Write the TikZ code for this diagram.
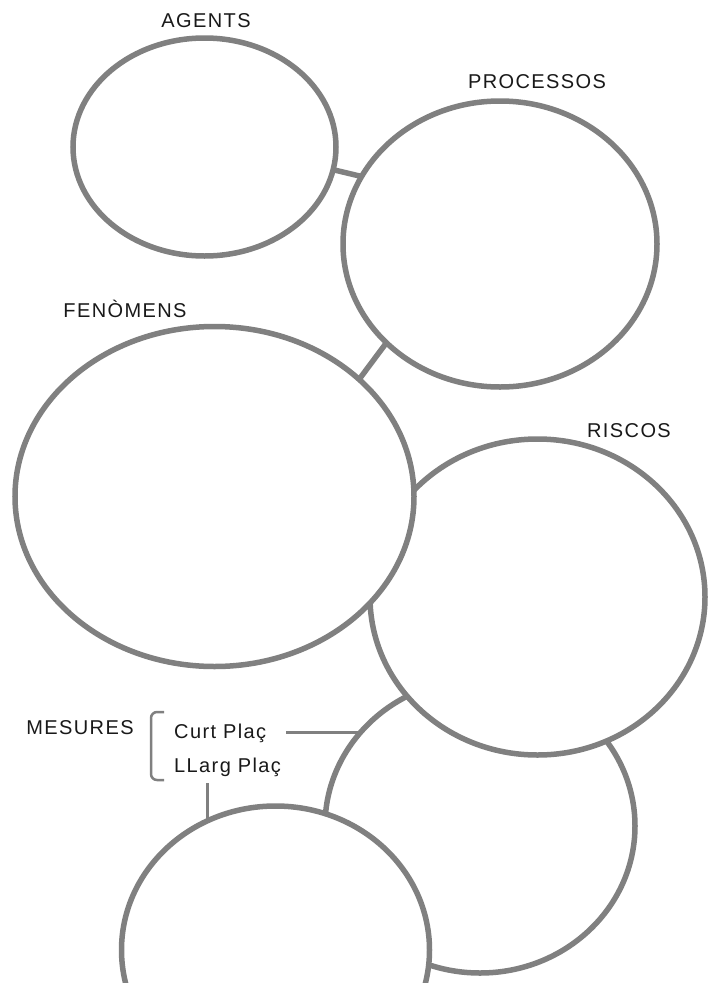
\documentclass[tikz,border=0pt]{standalone}
\usepackage{fontspec}
\setmainfont{Liberation Sans}
\newfontfamily\labfont[LetterSpace=7]{Liberation Sans}
\usetikzlibrary{shapes.geometric}
\definecolor{lg}{RGB}{128,128,128}
\definecolor{tx}{RGB}{25,25,25}
\begin{document}
\begin{tikzpicture}[x=1pt,y=-1pt,
  ell/.style={ellipse, draw=lg, line width=5.5pt, fill=white, inner sep=0pt, outer sep=0pt},
  conn/.style={draw=lg, line width=5.5pt},
  thinline/.style={draw=lg, line width=2.5pt},
  lbl/.style={anchor=base, inner sep=0pt, text=tx, font=\labfont\fontsize{20}{24}\selectfont},
  sublbl/.style={anchor=base west, inner sep=0pt, text=tx, font=\labfont\fontsize{20}{24}\selectfont}]
\useasboundingbox (0,0) rectangle (709,983);
\clip (0,0) rectangle (709,983);
\fill[white] (0,0) rectangle (709,983);
% ellipses (back to front)
\node[ell, minimum width=310pt, minimum height=294pt] (e5) at (480,826) {};
\node[ell, minimum width=308pt, minimum height=288pt] (e6) at (275.5,950) {};
\node[ell, minimum width=335pt, minimum height=316pt] (riscos) at (537.5,597) {};
\node[ell, minimum width=399pt, minimum height=340pt] (fen) at (214.5,496.5) {};
\node[ell, minimum width=263pt, minimum height=218pt] (agents) at (204.5,147) {};
\node[ell, minimum width=314pt, minimum height=286pt] (proc) at (500,244) {};
% connectors
\draw[conn] (agents.-10) -- (proc.154);
\draw[conn] (proc.221.8) -- (fen.39.8);
% labels
\node[lbl] (tagents) at (206,27) {AGENTS};
\node[lbl] (tproc) at (537,88) {PROCESSOS};
\node[lbl] (tfen) at (125,317) {FENÒMENS};
\node[lbl] (triscos) at (629,437) {RISCOS};
\node[lbl] (tmes) at (80,734) {MESURES};
\node[sublbl] (tcurt) at (174,738) {Curt Plaç};
\node[sublbl] (tllarg) at (174,772) {LLarg Plaç};
% bracket
\coordinate (bt) at (164,712);
\coordinate (bb) at (164,780);
\draw[thinline, rounded corners=6pt] (bt) -- (151,712) -- (151,780) -- (bb);
% measure lines
\coordinate (cl) at (286,732.5);
\draw[thinline] (cl) -- (cl -| e5.141.7);
\coordinate (lt) at (207.5,783);
\draw[thinline] (lt) -- (lt |- e6.117.8);
\end{tikzpicture}
\end{document}
